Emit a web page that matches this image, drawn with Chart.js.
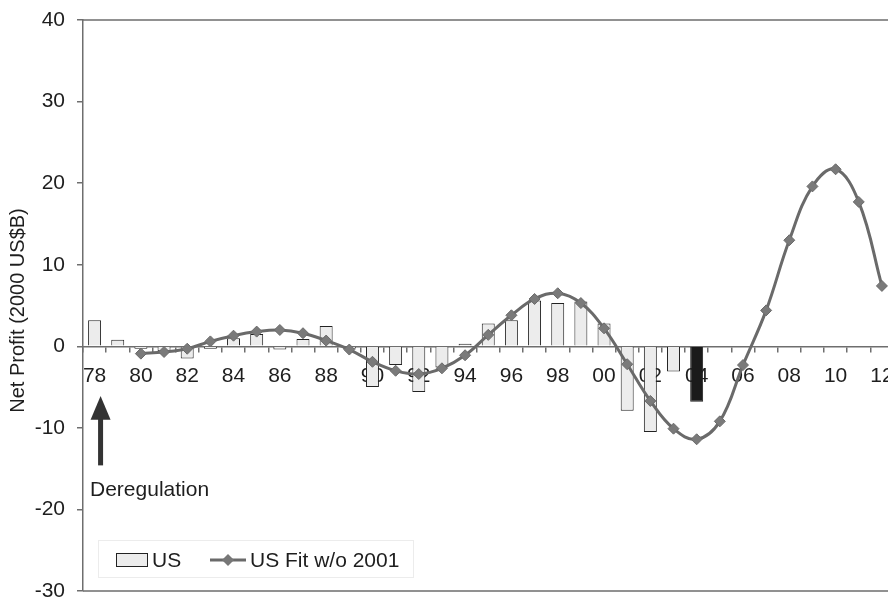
<!DOCTYPE html>
<html>
<head>
<meta charset="utf-8">
<script src="https://cdn.jsdelivr.net/npm/chart.js@4.4.1/dist/chart.umd.min.js"></script>
<style>
    html, body { margin: 0; padding: 0; background: #fff; overflow: hidden; }
    #wrap { width: 900px; height: 602px; }
</style>
</head>
<body>
<div id="wrap"><canvas id="profit-chart" width="900" height="602"></canvas></div>
<script>
// Data
const years = ['78', '79', '80', '81', '82', '83', '84', '85', '86', '87', '88', '89', '90', '91', '92', '93', '94',
    '95', '96', '97', '98', '99', '00', '01', '02', '03', '04', '05', '06', '07', '08', '09', '10', '11', '12'];

const usProfit = [3.2, 0.8, -0.3, -0.6, -1.5, -0.3, 1.0, 1.5, -0.4, 0.9, 2.5, -0.3, -5.0, -2.3, -5.6, -2.6, 0.3,
    2.8, 3.2, 5.6, 5.3, 5.5, 2.8, -7.9, -10.5, -3.1, -6.8];

const usFit = [null, null, -0.9, -0.7, -0.3, 0.6, 1.3, 1.8, 2.0, 1.6, 0.7, -0.4, -1.9, -3.0, -3.4, -2.7, -1.1,
    1.4, 3.8, 5.8, 6.5, 5.3, 2.2, -2.2, -6.7, -10.1, -11.4, -9.2, -2.3, 4.4, 13.0, 19.6, 21.7, 17.7, 7.4];

const shownYears = ['78', '80', '82', '84', '86', '88', '90', '92', '94', '96', '98', '00', '02', '04', '06', '08', '10', '12'];
const highlightYear = '04';
const deregYear = '78';

const font = '"Liberation Sans", Arial, sans-serif';
const textColor = '#1e1e1e';
const axisColor = '#6e6e6e';

// bar colours, the 04 bar is black
const barFill = years.map(y => y === highlightYear ? '#1a1a1a' : '#ececec');

// frame, y title, deregulation arrow and legend
const extras = {
    id: 'extras',
    afterDraw(chart) {
        const { ctx, chartArea: a, scales: { x, y } } = chart;
        ctx.save();

        ctx.strokeStyle = axisColor;
        ctx.lineWidth = 1.5;
        ctx.beginPath();
        ctx.moveTo(a.left, a.top);
        ctx.lineTo(a.right, a.top);
        ctx.moveTo(a.left, a.bottom);
        ctx.lineTo(a.right, a.bottom);
        ctx.stroke();

        // y title
        ctx.save();
        ctx.fillStyle = textColor;
        ctx.font = '20px ' + font;
        ctx.textAlign = 'center';
        ctx.textBaseline = 'middle';
        ctx.translate(18, (a.top + a.bottom) / 2 + 5);
        ctx.rotate(-Math.PI / 2);
        ctx.fillText('Net Profit (2000 US$B)', 0, 0);
        ctx.restore();

        // arrow under the 78 label
        const ax = x.getPixelForValue(years.indexOf(deregYear)) + 6;
        const tip = y.getPixelForValue(-6.1);
        const headBase = y.getPixelForValue(-9.0);
        const tail = y.getPixelForValue(-14.6);
        ctx.fillStyle = '#333';
        ctx.fillRect(ax - 2.5, headBase - 1, 5, tail - headBase + 1);
        ctx.beginPath();
        ctx.moveTo(ax, tip);
        ctx.lineTo(ax - 10, headBase);
        ctx.lineTo(ax + 10, headBase);
        ctx.closePath();
        ctx.fill();

        ctx.fillStyle = textColor;
        ctx.font = '21px ' + font;
        ctx.textAlign = 'left';
        ctx.textBaseline = 'middle';
        ctx.fillText('Deregulation', 90, y.getPixelForValue(-17.7));

        // legend
        const ly = 560;
        ctx.strokeStyle = '#ececec';
        ctx.lineWidth = 1;
        ctx.strokeRect(98.5, 540.5, 315, 37);

        ctx.fillStyle = '#ececec';
        ctx.fillRect(116, ly - 7, 32, 14);
        ctx.strokeStyle = '#222';
        ctx.strokeRect(116.5, ly - 6.5, 31, 13);
        ctx.fillStyle = textColor;
        ctx.font = '21px ' + font;
        ctx.fillText('US', 152, ly + 1);

        ctx.strokeStyle = '#6a6a6a';
        ctx.lineWidth = 3;
        ctx.beginPath();
        ctx.moveTo(210, ly);
        ctx.lineTo(246, ly);
        ctx.stroke();
        ctx.fillStyle = '#777';
        ctx.beginPath();
        ctx.moveTo(228, ly - 6);
        ctx.lineTo(234, ly);
        ctx.lineTo(228, ly + 6);
        ctx.lineTo(222, ly);
        ctx.closePath();
        ctx.fill();
        ctx.fillStyle = textColor;
        ctx.fillText('US Fit w/o 2001', 250, ly + 1);

        ctx.restore();
    }
};

const profitChart = new Chart(document.getElementById('profit-chart'), {
    type: 'bar',
    data: {
        labels: years,
        datasets: [{
            type: 'line',
            label: 'US Fit w/o 2001',
            data: usFit,
            borderColor: '#6a6a6a',
            borderWidth: 3,
            tension: 0.4,
            pointStyle: 'rectRot',
            pointRadius: 5.5,
            pointBackgroundColor: '#7a7a7a',
            pointBorderColor: '#6a6a6a',
            pointBorderWidth: 1,
            order: 0
        }, {
            label: 'US',
            data: usProfit,
            backgroundColor: barFill,
            borderColor: '#222',
            borderWidth: 1,
            barPercentage: 0.56,
            categoryPercentage: 1,
            order: 1
        }]
    },
    options: {
        responsive: false,
        animation: false,
        devicePixelRatio: 1,
        layout: { padding: { top: 20, bottom: 11, right: 6, left: 0 } },
        plugins: {
            legend: { display: false },
            tooltip: { enabled: false }
        },
        scales: {
            x: {
                position: { y: 0 },
                offset: true,
                afterFit: function(scale) {
                    scale.height = 0;
                    scale.paddingLeft = 0;
                    scale.paddingRight = 0;
                },
                grid: {
                    offset: true,
                    drawOnChartArea: false,
                    tickLength: 5,
                    color: axisColor,
                    lineWidth: 1.5
                },
                border: { color: axisColor, width: 1.5 },
                ticks: {
                    autoSkip: false,
                    maxRotation: 0,
                    padding: 12,
                    color: textColor,
                    font: { family: font, size: 21 },
                    callback: function(value) {
                        const yr = years[value];
                        return shownYears.includes(yr) ? yr : '';
                    }
                }
            },
            y: {
                min: -30,
                max: 40,
                afterFit: function(scale) {
                    scale.width = 83;
                    scale.paddingTop = 0;
                    scale.paddingBottom = 0;
                },
                grid: {
                    drawOnChartArea: false,
                    tickLength: 6,
                    color: axisColor,
                    lineWidth: 1.5
                },
                border: { color: axisColor, width: 1.5 },
                ticks: {
                    stepSize: 10,
                    padding: 12,
                    color: textColor,
                    font: { family: font, size: 21 }
                }
            }
        }
    },
    plugins: [extras]
});
</script>
</body>
</html>
